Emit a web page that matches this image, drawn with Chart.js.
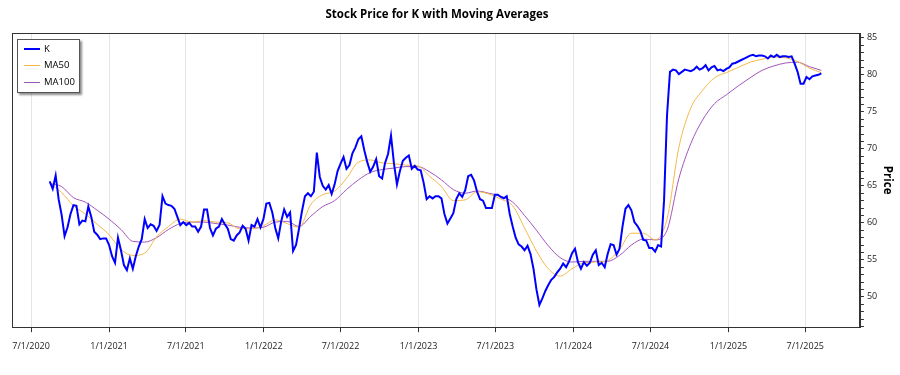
<!DOCTYPE html>
<html>
<head>
<meta charset="utf-8">
<script src="https://cdn.jsdelivr.net/npm/chart.js@4.4.1/dist/chart.umd.min.js"></script>
<style>
  body { margin: 0; background: #fff; }
  #wrap { position: relative; width: 900px; height: 375px; }
  #title { position: absolute; left: 12px; width: 850px; top: 6px; text-align: center;
           font: bold 11.5px "Open Sans", sans-serif; color: #000; }
  #legend { position: absolute; left: 17px; top: 39px; width: 61px; height: 52px; background: #fff;
            border: 1px solid #555; box-shadow: 2px 2px 2px rgba(0,0,0,0.45);
            font: 9.5px "Open Sans", sans-serif; color: #000; }
  .item { position: absolute; left: 6px; height: 12px; line-height: 12px; }
  .item span.sw { position: absolute; left: 0; top: 6px; width: 16px; }
  .item span.tx { position: absolute; left: 20px; top: 0; white-space: nowrap; }
</style>
</head>
<body>
<div id="wrap">
  <canvas id="chart" width="900" height="375"></canvas>
  <div id="title">Stock Price for K with Moving Averages</div>
  <div id="legend">
    <div class="item" style="top:3px"><span class="sw" style="border-top:2px solid #0000ff;top:5px"></span><span class="tx">K</span></div>
    <div class="item" style="top:19px"><span class="sw" style="border-top:1px solid #f5b848"></span><span class="tx">MA50</span></div>
    <div class="item" style="top:36px"><span class="sw" style="border-top:1px solid #a055bb"></span><span class="tx">MA100</span></div>
  </div>
</div>
<script>
// weekly closes (Fridays) starting 2020-08-14
const firstWeek = '2020-08-14';
const kPrice = [
  65.6,64.6,66.4,63.2,61.1,58.2,59.4,61.2,62.4,62.3,
  59.8,60.3,60.2,62.2,60.8,58.8,58.4,57.8,57.9,57.9,
  57.0,55.5,54.6,58.0,56.3,54.3,53.6,55.2,53.8,55.5,
  56.8,57.8,60.5,59.3,59.8,59.6,58.9,59.7,63.6,62.6,
  62.4,62.3,61.9,60.8,59.7,60.1,59.7,60.0,59.5,59.5,
  58.8,59.5,61.8,61.8,59.3,58.3,59.2,59.5,60.5,59.8,
  59.2,57.8,57.6,58.3,58.7,59.6,59.2,57.6,59.7,59.5,
  60.5,59.4,60.5,62.6,62.7,61.4,59.3,57.9,60.2,61.8,
  60.8,61.4,56.2,57.0,59.2,61.6,63.6,64.0,63.6,64.2,
  69.5,66.2,65.0,64.5,65.1,63.9,65.2,67.0,68.0,68.9,
  67.3,67.8,69.4,70.2,71.3,71.7,69.8,68.2,66.9,67.6,
  68.6,66.3,66.0,68.1,69.3,71.8,68.0,65.2,67.0,68.4,
  68.8,69.1,67.3,67.7,67.2,67.1,65.4,63.2,63.6,63.3,
  63.6,63.6,63.3,61.2,59.9,60.6,61.3,63.2,64.0,63.5,
  64.4,66.3,66.5,65.7,64.2,63.2,63.0,62.0,62.0,62.0,
  63.8,63.8,63.5,63.3,63.6,61.2,59.5,58.0,57.1,56.8,
  56.3,56.9,55.8,53.8,51.0,48.9,49.8,50.8,51.6,52.3,
  52.7,53.3,53.8,54.5,54.0,54.8,55.9,56.5,54.7,53.8,
  54.7,54.2,54.6,55.7,56.3,54.3,54.6,54.0,55.8,57.1,
  57.0,55.7,56.5,59.5,61.9,62.4,61.7,60.1,59.6,58.9,
  57.7,57.6,56.6,56.6,56.1,57.0,56.8,63.0,74.5,80.4,
  80.7,80.6,80.1,80.4,80.7,80.6,80.5,80.7,81.1,80.7,
  80.9,81.3,80.6,81.0,81.2,80.6,80.7,80.5,80.8,81.0,
  81.5,81.6,81.8,82.0,82.2,82.4,82.6,82.7,82.5,82.6,
  82.6,82.5,82.2,82.6,82.4,82.7,82.4,82.5,82.5,82.4,
  82.5,81.5,80.4,78.8,78.8,79.7,79.4,79.8,79.9,80.0,
  80.2
];
// moving averages read every 4th week
const ma50 = [
  65.3,64.1,62.3,61.2,59.8,58.4,56.4,55.6,55.9,58.1,
  59.5,60.5,60.1,60.3,60.1,60.0,59.2,59.2,59.6,60.4,
  59.9,59.4,62.5,63.8,64.3,66.0,68.2,68.5,68.1,68.0,
  67.8,67.7,66.3,64.9,63.0,63.1,64.2,63.9,63.2,62.3,
  59.3,56.2,53.8,52.8,53.8,54.6,54.7,54.9,56.4,58.6,
  58.6,57.7,60.5,70.2,75.5,77.9,79.6,80.3,81.0,81.7,
  82.1,82.4,82.3,81.8,80.9,80.3
];
const ma100 = [
  65.3,64.9,63.4,62.8,61.7,60.5,59.1,57.5,57.4,58.0,
  59.1,59.9,60.1,60.1,59.9,59.7,59.4,59.3,59.4,60.1,
  60.2,59.5,60.9,62.2,63.0,64.5,65.8,66.8,67.2,67.4,
  67.6,67.6,66.9,65.8,64.5,64.0,64.3,64.0,63.6,62.8,
  61.0,59.0,56.9,55.3,54.7,54.8,54.8,54.8,55.6,57.0,
  57.8,57.7,59.0,66.0,70.7,73.9,76.1,77.3,78.5,79.6,
  80.6,81.2,81.6,81.7,81.1,80.6
];
const tickDates = ['2020-07-01','2021-01-01','2021-07-01','2022-01-01','2022-07-01','2023-01-01',
                   '2023-07-01','2024-01-01','2024-07-01','2025-01-01','2025-07-01'];
const xMin = '2020-05-17', xMax = '2025-11-07';

const DAY = 86400000;
const toMs = s => Date.parse(s + 'T00:00:00Z');
const weekDates = kPrice.map((v, i) => toMs(firstWeek) + i * 7 * DAY);
const kData = kPrice.map((v, i) => ({x: weekDates[i], y: v}));
const ma50Data = ma50.map((v, j) => ({x: weekDates[j * 4], y: v}));
const ma100Data = ma100.map((v, j) => ({x: weekDates[j * 4], y: v}));

const fmtDate = ms => { const d = new Date(ms); return (d.getUTCMonth() + 1) + '/' + d.getUTCDate() + '/' + d.getUTCFullYear(); };

// box around the plot area
const frame = {
  id: 'frame',
  afterDraw(chart) {
    const {ctx, chartArea: a} = chart;
    ctx.save();
    ctx.strokeStyle = '#333';
    ctx.lineWidth = 1;
    ctx.strokeRect(Math.round(a.left) + 0.5, Math.round(a.top) + 0.5, Math.round(a.right - a.left), Math.round(a.bottom - a.top));
    ctx.restore();
  }
};

const tickFont = {family: '"Open Sans", sans-serif', size: 9};

new Chart(document.getElementById('chart').getContext('2d'), {
  type: 'line',
  data: {
    datasets: [
      {label: 'K', data: kData, borderColor: '#0000ff', borderWidth: 2, pointRadius: 0, tension: 0},
      {label: 'MA50', data: ma50Data, borderColor: '#f5b848', borderWidth: 1, pointRadius: 0, cubicInterpolationMode: 'monotone'},
      {label: 'MA100', data: ma100Data, borderColor: '#a055bb', borderWidth: 1, pointRadius: 0, cubicInterpolationMode: 'monotone'}
    ]
  },
  options: {
    responsive: false,
    animation: false,
    layout: {padding: {left: 12, top: 33, right: 0, bottom: 14}},
    plugins: {legend: {display: false}, title: {display: false}, tooltip: {enabled: false}},
    scales: {
      x: {
        type: 'linear',
        min: toMs(xMin),
        max: toMs(xMax),
        afterBuildTicks: s => { s.ticks = tickDates.map(d => ({value: toMs(d)})); },
        ticks: {callback: v => fmtDate(v), font: tickFont, color: '#222', padding: 9, maxRotation: 0, autoSkip: false},
        grid: {color: '#e4e4e4', tickColor: '#333', tickLength: 5},
        border: {color: '#333'}
      },
      y: {
        position: 'right',
        min: 45.9,
        max: 85.65,
        ticks: {stepSize: 1, maxTicksLimit: 100, autoSkip: false, includeBounds: false,
                callback: v => (v % 5 === 0 ? v : ''), font: tickFont, color: '#222', padding: 3},
        grid: {drawOnChartArea: false, tickColor: '#333', tickLength: 4},
        border: {color: '#333'},
        title: {display: true, text: 'Price', color: '#000', padding: {top: 6, bottom: 0},
                font: {family: '"Open Sans", sans-serif', size: 11.5, weight: 'bold'}}
      }
    }
  },
  plugins: [frame]
});
</script>
</body>
</html>
